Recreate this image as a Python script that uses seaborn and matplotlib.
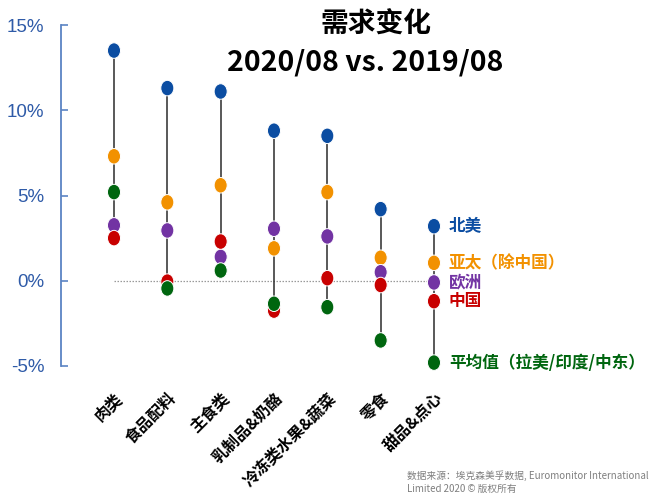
import numpy as np
import pandas as pd
import matplotlib
matplotlib.use("Agg")
import matplotlib.pyplot as plt
from matplotlib.path import Path
from matplotlib.transforms import Affine2D
import seaborn as sns

# ---- data ----
categories = ['肉类', '食品配料', '主食类', '乳制品&奶酪', '冷冻类水果&蔬菜', '零食', '甜品&点心']
north_america = [13.5, 11.3, 11.1, 8.8, 8.5, 4.2, 3.2]
apac_ex_china = [7.3, 4.6, 5.6, 1.9, 5.2, 1.35, 1.05]
europe = [3.25, 2.95, 1.4, 3.05, 2.6, 0.5, -0.1]
china = [2.5, -0.05, 2.3, -1.75, 0.15, -0.25, -1.2]
others_avg = [5.2, -0.45, 0.6, -1.35, -1.55, -3.5, -4.8]

region_names = ['北美', '亚太（除中国）', '欧洲', '中国', '平均值（拉美/印度/中东）']
region_values = [north_america, apac_ex_china, europe, china, others_avg]
region_colors = ['#0B4DA2', '#F29100', '#7233A3', '#C80000', '#00660F']

y_ticks = [-5, 0, 5, 10, 15]
y_tick_labels = ['-5%', '0%', '5%', '10%', '15%']

title_line1 = '需求变化'
title_line2 = '2020/08 vs. 2019/08'
source_line1 = '数据来源：埃克森美孚数据, Euromonitor International'
source_line2 = 'Limited 2020 © 版权所有'

# ---- style ----
sns.set_theme(style='white')
plt.rcParams['font.family'] = ['Noto Sans CJK SC', 'DejaVu Sans']

rows = []
for name, vals in zip(region_names, region_values):
    for cat, v in zip(categories, vals):
        rows.append({'category': cat, 'region': name, 'value': v})
df = pd.DataFrame(rows)
df['pos'] = df['category'].map({c: i for i, c in enumerate(categories)})

W, H = 659, 494
fig = plt.figure(figsize=(W / 100, H / 100), dpi=100)
ax = fig.add_axes([61 / W, 1 - 366 / H, (W - 61) / W, 341 / H])

# vertical range lines
span = df.groupby('pos')['value'].agg(['min', 'max']).reset_index()
ax.vlines(span['pos'], span['min'], span['max'], color='#2b2b2b', lw=1.1, zorder=1)
# zero dotted line
ax.hlines(0, 0, len(categories) - 1, color='#9a9a9a', lw=0.9, linestyles=(0, (1.2, 1.2)), zorder=0.5)

ellipse = Path.unit_circle().transformed(Affine2D().scale(0.84, 1.0))
sns.scatterplot(data=df, x='pos', y='value', hue='region', hue_order=region_names,
                palette=region_colors, marker=ellipse, s=125, edgecolor='white',
                linewidth=0.7, legend=False, zorder=3, clip_on=False, ax=ax)

# series labels at the right
last = len(categories) - 1
for name, vals, col in zip(region_names, region_values, region_colors):
    ax.text(last + 0.28, vals[-1], name, color=col, fontsize=12, fontweight='bold',
            va='center', ha='left')

unit = 53.33
ax.set_xlim(-(114 - 61) / unit, -(114 - 61) / unit + (W - 61) / unit)
ax.set_ylim(-5, 15)
ax.set_xlabel('')
ax.set_ylabel('')

ax.set_yticks(y_ticks)
ax.set_yticklabels(y_tick_labels, fontfamily='Liberation Sans', fontsize=13.5, color='#2F5BA8')
ax.tick_params(axis='y', direction='in', length=5, width=1.2, color='#5B84C4', pad=12, left=True)

ax.set_xticks(range(len(categories)))
ax.set_xticklabels(categories, rotation=45, ha='right', va='top', rotation_mode='anchor',
                   fontsize=11.5, fontweight='bold', color='black')
ax.tick_params(axis='x', length=0, pad=17)

for s in ['top', 'right', 'bottom']:
    ax.spines[s].set_visible(False)
ax.spines['left'].set_color('#5B84C4')
ax.spines['left'].set_linewidth(1.3)
ax.patch.set_alpha(0)

fig.text(376 / W, 1 - 25 / H, title_line1, ha='center', va='center', fontsize=20, fontweight='bold', color='black')
fig.text(365 / W, 1 - 62 / H, title_line2, ha='center', va='center', fontsize=20.5, fontweight='bold', color='black')

fig.text(407 / W, 1 - 476 / H, source_line1, ha='left', va='center', fontsize=7, color='#7F7F7F')
fig.text(407 / W, 1 - 489 / H, source_line2, ha='left', va='center', fontsize=7, color='#7F7F7F')

fig.savefig('out.png', dpi=100, facecolor='white')
